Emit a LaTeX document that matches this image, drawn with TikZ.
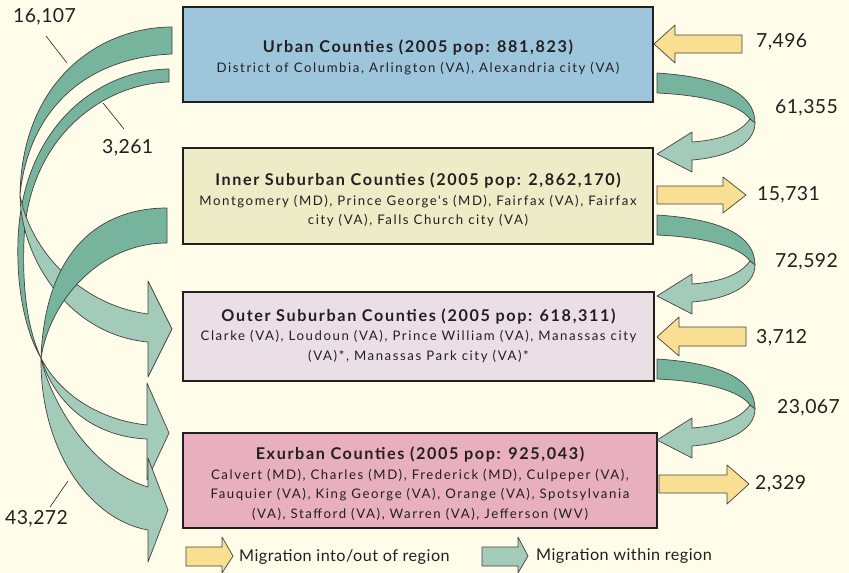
\documentclass[tikz,border=0pt]{standalone}
\usepackage{fontspec}
\setmainfont{Lato}
\newfontfamily\boxfont{Lato}[LetterSpace=12]
\newfontfamily\titlefont{Lato}[LetterSpace=10]
\newfontfamily\numfont{Lato}[LetterSpace=2]
\newfontfamily\legendfont{Lato}[LetterSpace=3]
\usetikzlibrary{calc}
\definecolor{bg}{RGB}{255,253,234}
\definecolor{urbanfill}{RGB}{157,198,220}
\definecolor{innerfill}{RGB}{238,235,199}
\definecolor{outerfill}{RGB}{234,223,229}
\definecolor{exurbfill}{RGB}{232,175,190}
\definecolor{flowdark}{RGB}{118,180,157}
\definecolor{flowlight}{RGB}{162,203,185}
\definecolor{migr}{RGB}{248,223,145}
\definecolor{ink}{RGB}{35,31,32}
\newcommand\boxtitle[1]{{\titlefont\fontsize{16.2}{20}\selectfont\bfseries #1}}
% loop-shaped flow on the right side, from one box down to the next;
% #1 is the top of the ribbon where it leaves the upper box
\newcommand\loopflow[1]{%
  \draw[darkribbon] (657,#1) .. controls (720,{#1+4}) and (755,{#1+20}) .. (755,{#1+50})
    -- (750,{#1+46}) .. controls (740,{#1+32}) and (705,{#1+22}) .. (657,{#1+20}) -- cycle;
  \draw[lightribbon] (750,{#1+46}) .. controls (740,{#1+60}) and (720,{#1+67}) .. (692,{#1+69})
    -- (692,{#1+59}) -- (657,{#1+81}) -- (692,{#1+99}) -- (692,{#1+87})
    .. controls (730,{#1+84}) and (755,{#1+70}) .. (755,{#1+50}) -- cycle;}
\begin{document}
\begin{tikzpicture}[x=1pt,y=-1pt,
  regionbox/.style={draw=ink, line width=1.8pt, inner sep=0pt},
  boxtext/.style={align=center, text=ink, inner sep=0pt,
    font=\boxfont\fontsize{13.2}{19.5}\selectfont},
  ribbon/.style={draw=ink!85, line width=0.7pt, line join=round},
  darkribbon/.style={ribbon, fill=flowdark},
  lightribbon/.style={ribbon, fill=flowlight},
  inout/.style={ribbon, fill=migr},
  num/.style={font=\numfont\fontsize{19.4}{19.4}\selectfont, text=ink, inner sep=0pt, anchor=west},
  legendtext/.style={font=\legendfont\fontsize{16.2}{16.2}\selectfont, text=ink, inner sep=0pt, anchor=west},
  leader/.style={draw=ink, line width=0.6pt}]
\useasboundingbox (0,0) rectangle (849,573);
\fill[bg] (0,0) rectangle (849,573);

% ---- region boxes ----
\node[regionbox, fill=urbanfill, minimum width=470pt, minimum height=95pt] (urban) at (418,54.5) {};
\node[regionbox, fill=innerfill, minimum width=470pt, minimum height=96pt] (inner) at (418,196) {};
\node[regionbox, fill=outerfill, minimum width=471pt, minimum height=89pt] (outer) at (418.5,336.5) {};
\node[regionbox, fill=exurbfill, minimum width=474pt, minimum height=95pt] (exurb) at (420,480.5) {};

\node[boxtext] (urbantext) at ($(urban.center)+(0,3)$)
  {\boxtitle{Urban Counties (2005 pop: 881,823)}\\
   District of Columbia, Arlington (VA), Alexandria city (VA)};
\node[boxtext] (innertext) at ($(inner.center)+(0,4)$)
  {\boxtitle{Inner Suburban Counties (2005 pop: 2,862,170)}\\
   Montgomery (MD), Prince George's (MD), Fairfax (VA), Fairfax\\
   city (VA), Falls Church city (VA)};
\node[boxtext] (outertext) at ($(outer.center)+(0,-1)$)
  {\boxtitle{Outer Suburban Counties (2005 pop: 618,311)}\\
   Clarke (VA), Loudoun (VA), Prince William (VA), Manassas city\\
   (VA)*, Manassas Park city (VA)*};
\node[boxtext] (exurbtext) at ($(exurb.center)+(0,3)$)
  {\boxtitle{Exurban Counties (2005 pop: 925,043)}\\
   Calvert (MD), Charles (MD), Frederick (MD), Culpeper (VA),\\
   Fauquier (VA), King George (VA), Orange (VA), Spotsylvania\\
   (VA), Stafford (VA), Warren (VA), Jefferson (WV)};

% ---- flows into / out of the region ----
\draw[inout] (742,35) -- (675,35) -- (675,25) -- (654,44) -- (675,63) -- (675,53) -- (742,53) -- cycle;
\draw[inout] (657,186) -- (723,186) -- (723,177) -- (746,195) -- (723,213) -- (723,204) -- (657,204) -- cycle;
\draw[inout] (746,327) -- (679,327) -- (679,317) -- (657,337) -- (679,356) -- (679,346) -- (746,346) -- cycle;
\draw[inout] (659,475) -- (727,475) -- (727,465) -- (749,484) -- (727,504) -- (727,493) -- (659,493) -- cycle;

% ---- flows to the next ring outward (right side) ----
\loopflow{73}
\loopflow{215}
\loopflow{359}

% ---- flows that skip a ring (left side) ----
% urban -> outer suburban
\draw[darkribbon] (172,27) .. controls (100,27) and (22,80) .. (20,195)
  .. controls (28,115) and (80,58) .. (172,54) -- cycle;
% urban -> exurban
\draw[darkribbon] (169,69) .. controls (95,70) and (22,130) .. (18,240)
  .. controls (16,300) and (30,340) .. (41,358)
  .. controls (28,330) and (22,290) .. (24,240)
  .. controls (28,140) and (100,84) .. (169,82) -- cycle;
\draw[lightribbon] (20,195) .. controls (30,250) and (80,305) .. (148,314)
  -- (148,281) -- (172,329) -- (148,377) -- (148,342)
  .. controls (70,335) and (21,260) .. (20,195) -- cycle;
% inner suburban -> exurban
\draw[darkribbon] (167,208) .. controls (100,208) and (45,250) .. (41,358)
  .. controls (50,300) and (100,243) .. (167,243) -- cycle;
\draw[lightribbon] (41,358) .. controls (60,395) and (100,420) .. (147,425)
  -- (147,383) -- (169,433) -- (147,480) -- (147,439)
  .. controls (95,437) and (55,405) .. (41,358) -- cycle;
\draw[lightribbon] (41,358) .. controls (50,400) and (90,470) .. (148,487)
  -- (148,458) -- (168,510) -- (148,562) -- (148,530)
  .. controls (90,520) and (40,450) .. (41,358) -- cycle;

% ---- flow figures ----
\node[num] (n7496)  at (756,42)  {7,496};
\node[num] (n61355) at (775,108) {61,355};
\node[num] (n15731) at (757,195) {15,731};
\node[num] (n72592) at (775,262) {72,592};
\node[num] (n3712)  at (756,338) {3,712};
\node[num] (n23067) at (777,408) {23,067};
\node[num] (n2329)  at (755,484) {2,329};
\node[num] (n16107) at (13,17)   {16,107};
\node[num] (n3261)  at (102,148) {3,261};
\node[num] (n43272) at (5,519)   {43,272};

% leader lines from figures to their ribbons
\coordinate (p16107a) at (46,36);  \coordinate (p16107b) at (67,63);
\coordinate (p3261a)  at (103,103); \coordinate (p3261b) at (124,129);
\coordinate (p43272a) at (50,507); \coordinate (p43272b) at (68,481);
\draw[leader] (p16107a) -- (p16107b);
\draw[leader] (p3261b) -- (p3261a);
\draw[leader] (p43272a) -- (p43272b);

% ---- legend ----
\draw[inout] (186,547) -- (222,547) -- (222,537) -- (233,556) -- (222,573) -- (222,566) -- (186,566) -- cycle;
\node[legendtext] (legin) at (239,557) {Migration into/out of region};
\draw[lightribbon] (482,547) -- (518,547) -- (518,537) -- (528,556) -- (518,573) -- (518,566) -- (482,566) -- cycle;
\node[legendtext] (legwithin) at (536,556) {Migration within region};
\end{tikzpicture}
\end{document}
